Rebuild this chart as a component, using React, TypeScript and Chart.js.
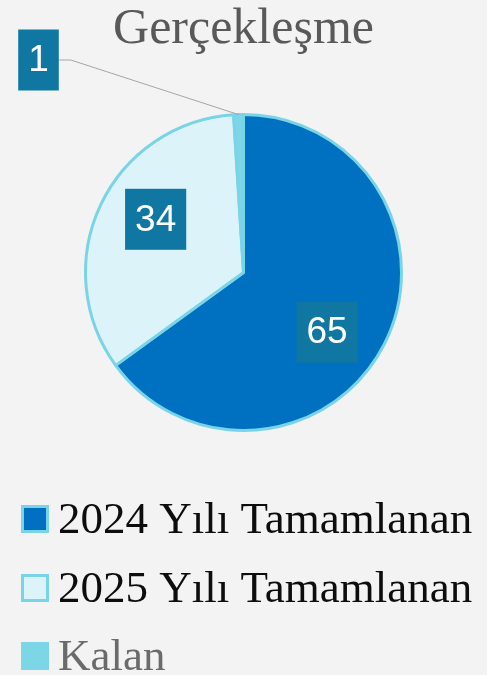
import React, { useEffect, useRef } from "react";
import { Chart, registerables } from "chart.js";

Chart.register(...registerables);

const titleText = "Gerçekleşme";
const categories = ["2024 Yılı Tamamlanan", "2025 Yılı Tamamlanan", "Kalan"];
const values = [65, 34, 1];
const sliceColors = ["#0070C0", "#DCF3FA", "#7DD6E6"];
const legendTextColors = ["#0D0D0D", "#0D0D0D", "#6B6B6B"];

const BORDER = "#7AD4E7";
const LABEL_BG = "#0F77A1";
const BG = "#F3F3F3";
// best-fit nudges (degrees) for inside labels
const LABEL_ANGLE_SHIFT = [8.5, 6, 0];

export default function App() {
  const ref = useRef<HTMLCanvasElement | null>(null);

  useEffect(() => {
    if (!ref.current) return;

    const bgPlugin = {
      id: "bg",
      beforeDraw(chart: any) {
        const { ctx, width, height } = chart;
        ctx.save();
        ctx.fillStyle = BG;
        ctx.fillRect(0, 0, width, height);
        ctx.restore();
      },
    };

    const labelPlugin = {
      id: "sliceLabels",
      afterDatasetsDraw(chart: any) {
        const meta = chart.getDatasetMeta(0);
        const ctx = chart.ctx;
        ctx.save();
        ctx.font = "37px 'Liberation Sans'";
        ctx.textAlign = "center";
        ctx.textBaseline = "middle";
        meta.data.forEach((arc: any, i: number) => {
          const { startAngle, endAngle, outerRadius, x, y } = arc.getProps(
            ["startAngle", "endAngle", "outerRadius", "x", "y"],
            true
          );
          const mid = (startAngle + endAngle) / 2 + (LABEL_ANGLE_SHIFT[i] * Math.PI) / 180;
          const text = String(values[i]);
          const tw = ctx.measureText(text).width;
          const bw = tw + 20;
          const bh = 61;
          const frac = (endAngle - startAngle) / (2 * Math.PI);
          let cx: number;
          let cy: number;
          if (frac > 0.05) {
            cx = x + Math.cos(mid) * outerRadius * 0.65;
            cy = y + Math.sin(mid) * outerRadius * 0.65;
          } else {
            const ex = x + Math.cos(mid) * outerRadius;
            const ey = y + Math.sin(mid) * outerRadius;
            cx = chart.chartArea.left + 38.5;
            cy = 60;
            ctx.strokeStyle = "#A6A6A6";
            ctx.lineWidth = 1;
            ctx.beginPath();
            ctx.moveTo(cx + bw / 2, cy);
            ctx.lineTo(cx + bw / 2 + 12, cy);
            ctx.lineTo(ex, ey);
            ctx.stroke();
          }
          ctx.fillStyle = LABEL_BG;
          ctx.fillRect(cx - bw / 2, cy - bh / 2, bw, bh);
          ctx.fillStyle = "#FFFFFF";
          ctx.fillText(text, cx, cy + 1);
        });
        ctx.restore();
      },
    };

    const legendPlugin = {
      id: "customLegend",
      afterDraw(chart: any) {
        const ctx = chart.ctx;
        const base = chart.chartArea.bottom;
        const rowOffsets = [101, 170, 238];
        ctx.save();
        ctx.font = "45px 'Liberation Serif'";
        ctx.textAlign = "left";
        ctx.textBaseline = "alphabetic";
        categories.forEach((label, i) => {
          const by = base + rowOffsets[i];
          const size = 28;
          const bx = 21;
          const top = by - size;
          ctx.fillStyle = sliceColors[i];
          ctx.fillRect(bx, top, size, size);
          ctx.strokeStyle = i === 2 ? sliceColors[i] : BORDER;
          ctx.lineWidth = 3;
          ctx.strokeRect(bx + 1.5, top + 1.5, size - 3, size - 3);
          ctx.fillStyle = legendTextColors[i];
          ctx.fillText(label, 58, by);
        });
        ctx.restore();
      },
    };

    const chart = new Chart(ref.current, {
      type: "pie",
      data: {
        labels: categories,
        datasets: [
          {
            data: values,
            backgroundColor: sliceColors,
            borderColor: BORDER,
            borderWidth: 3,
          },
        ],
      },
      options: {
        animation: false,
        responsive: true,
        maintainAspectRatio: false,
        layout: { padding: { top: 0, bottom: 243, left: 0, right: 0 } },
        plugins: {
          legend: { display: false },
          tooltip: { enabled: false },
          title: {
            display: true,
            text: titleText,
            color: "#595959",
            font: { family: "'Liberation Serif'", size: 50, weight: "normal", lineHeight: 1.2 },
            padding: { top: 0, bottom: 53 },
          },
        },
      },
      plugins: [bgPlugin, labelPlugin, legendPlugin],
    });

    return () => chart.destroy();
  }, []);

  return (
    <div
      style={{
        position: "fixed",
        left: 0,
        top: 0,
        width: "487px",
        height: "675px",
        background: BG,
      }}
    >
      <canvas ref={ref} />
    </div>
  );
}
